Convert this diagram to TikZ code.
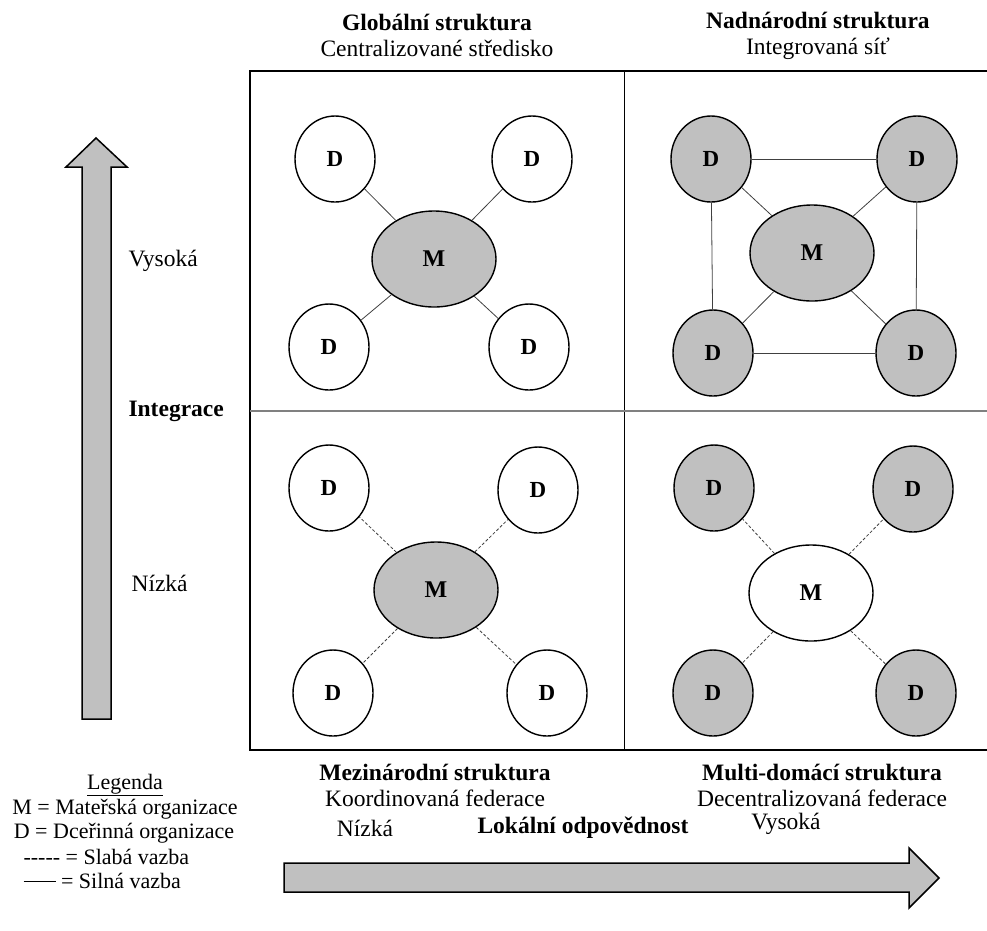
\documentclass[tikz,border=0pt]{standalone}
\usepackage{fontspec}
\setmainfont{Liberation Serif}
\usetikzlibrary{shapes.geometric}

\definecolor{seda}{HTML}{C0C0C0}
\newcommand{\velkepismo}{\fontsize{23.5}{26}\selectfont}
\newcommand{\legpismo}{\fontsize{22}{26}\selectfont}

\tikzset{
	dcera/.style={ellipse, draw, line width=1.4pt, minimum width=80pt, minimum height=86pt, inner sep=0pt, font=\fontsize{23}{26}\selectfont\bfseries},
	matka/.style={ellipse, draw, line width=1.4pt, minimum width=124pt, minimum height=96pt, inner sep=0pt, font=\fontsize{24}{26}\selectfont\bfseries},
	silna/.style={draw=black!75, line width=0.8pt},
	slaba/.style={draw=black!75, line width=0.8pt, dash pattern=on 3pt off 2pt},
	sipka/.style={draw, line width=1.5pt, fill=seda}
}

\begin{document}
\begin{tikzpicture}[x=1pt, y=-1pt, font=\velkepismo]
		\useasboundingbox (0,0) rectangle (987,930);
		
		% ramecek a deleni
		\draw[line width=1.5pt] (987,71) -- (250,71) -- (250,750) -- (987,750);
		\draw[line width=0.8pt] (624,71) -- (624,750);
		\draw[line width=1.2pt, gray] (250,411) -- (987,411);
		
		% sipky
		\draw[sipka] (82,719) -- (82,167) -- (66,167) -- (96,138) -- (127,167) -- (111,167) -- (111,719) -- cycle;
		\draw[sipka] (284,863) -- (909,863) -- (909,848) -- (939,878) -- (909,908) -- (909,892) -- (284,892) -- cycle;
		
		% globalni struktura
		\node[matka, fill=seda] (globM) at (434,259) {M};
		\node[dcera] (globD1) at (335,159) {D};
		\node[dcera] (globD2) at (532,159) {D};
		\node[dcera] (globD3) at (329,347) {D};
		\node[dcera] (globD4) at (529,347) {D};
		\draw[silna] (globM) -- (globD1);
		\draw[silna] (globM) -- (globD2);
		\draw[silna] (globM) -- (globD3);
		\draw[silna] (globM) -- (globD4);
		
		% nadnarodni struktura
		\node[matka, fill=seda] (nadnM) at (812,253) {M};
		\node[dcera, fill=seda] (nadnD1) at (711,159) {D};
		\node[dcera, fill=seda] (nadnD2) at (917,159) {D};
		\node[dcera, fill=seda] (nadnD3) at (713,353) {D};
		\node[dcera, fill=seda] (nadnD4) at (916,353) {D};
		\draw[silna] (nadnM) -- (nadnD1);
		\draw[silna] (nadnM) -- (nadnD2);
		\draw[silna] (nadnM) -- (nadnD3);
		\draw[silna] (nadnM) -- (nadnD4);
		\draw[silna] (nadnD1) -- (nadnD2);
		\draw[silna] (nadnD1) -- (nadnD3);
		\draw[silna] (nadnD2) -- (nadnD4);
		\draw[silna] (nadnD3) -- (nadnD4);
		
		% mezinarodni struktura
		\node[matka, fill=seda] (meziM) at (436,590) {M};
		\node[dcera] (meziD1) at (329,488) {D};
		\node[dcera] (meziD2) at (538,490) {D};
		\node[dcera] (meziD3) at (333,693) {D};
		\node[dcera] (meziD4) at (547,693) {D};
		\draw[slaba] (meziM) -- (meziD1);
		\draw[slaba] (meziM) -- (meziD2);
		\draw[slaba] (meziM) -- (meziD3);
		\draw[slaba] (meziM) -- (meziD4);
		
		% multi-domaci struktura
		\node[matka] (multM) at (811,593) {M};
		\node[dcera, fill=seda] (multD1) at (714,488) {D};
		\node[dcera, fill=seda] (multD2) at (913,489) {D};
		\node[dcera, fill=seda] (multD3) at (713,693) {D};
		\node[dcera, fill=seda] (multD4) at (916,693) {D};
		\draw[slaba] (multM) -- (multD1);
		\draw[slaba] (multM) -- (multD2);
		\draw[slaba] (multM) -- (multD3);
		\draw[slaba] (multM) -- (multD4);
		
		% nazvy
		\node[align=center] (globT) at (437,35) {\textbf{Globální struktura}\\Centralizované středisko};
		\node[align=center] (nadnT) at (818,36) {\textbf{Nadnárodní struktura}\\Integrovaná síť};
		\node[align=center] (meziT) at (435,785) {\textbf{Mezinárodní struktura}\\Koordinovaná federace};
		\node[align=center] (multT) at (822,785) {\textbf{Multi-domácí struktura}\\Decentralizovaná federace};
		
		% osy
		\node[anchor=west] (intV) at (125,261) {Vysoká};
		\node[anchor=west] (intI) at (125,411) {\textbf{Integrace}};
		\node[anchor=west] (intN) at (128,583) {Nízká};
		\node (lokN) at (365,828) {Nízká};
		\node (lokL) at (583,828) {\textbf{Lokální odpovědnost}};
		\node (lokV) at (786,824) {Vysoká};
		
		% legenda
		\node[font=\legpismo] (legL) at (125,785) {\underline{Legenda}};
		\node[font=\legpismo] (legM) at (125,809) {M = Mateřská organizace};
		\node[font=\legpismo] (legD) at (124,833) {D = Dceřinná organizace};
		\node[font=\legpismo, anchor=west] (legS) at (20,857) {-{}-{}-{}-{}- = Slabá vazba};
		\node[font=\legpismo, anchor=west] (legP) at (20,881) {\rule[0.3em]{32pt}{0.6pt} = Silná vazba};
	\end{tikzpicture}
\end{document}
